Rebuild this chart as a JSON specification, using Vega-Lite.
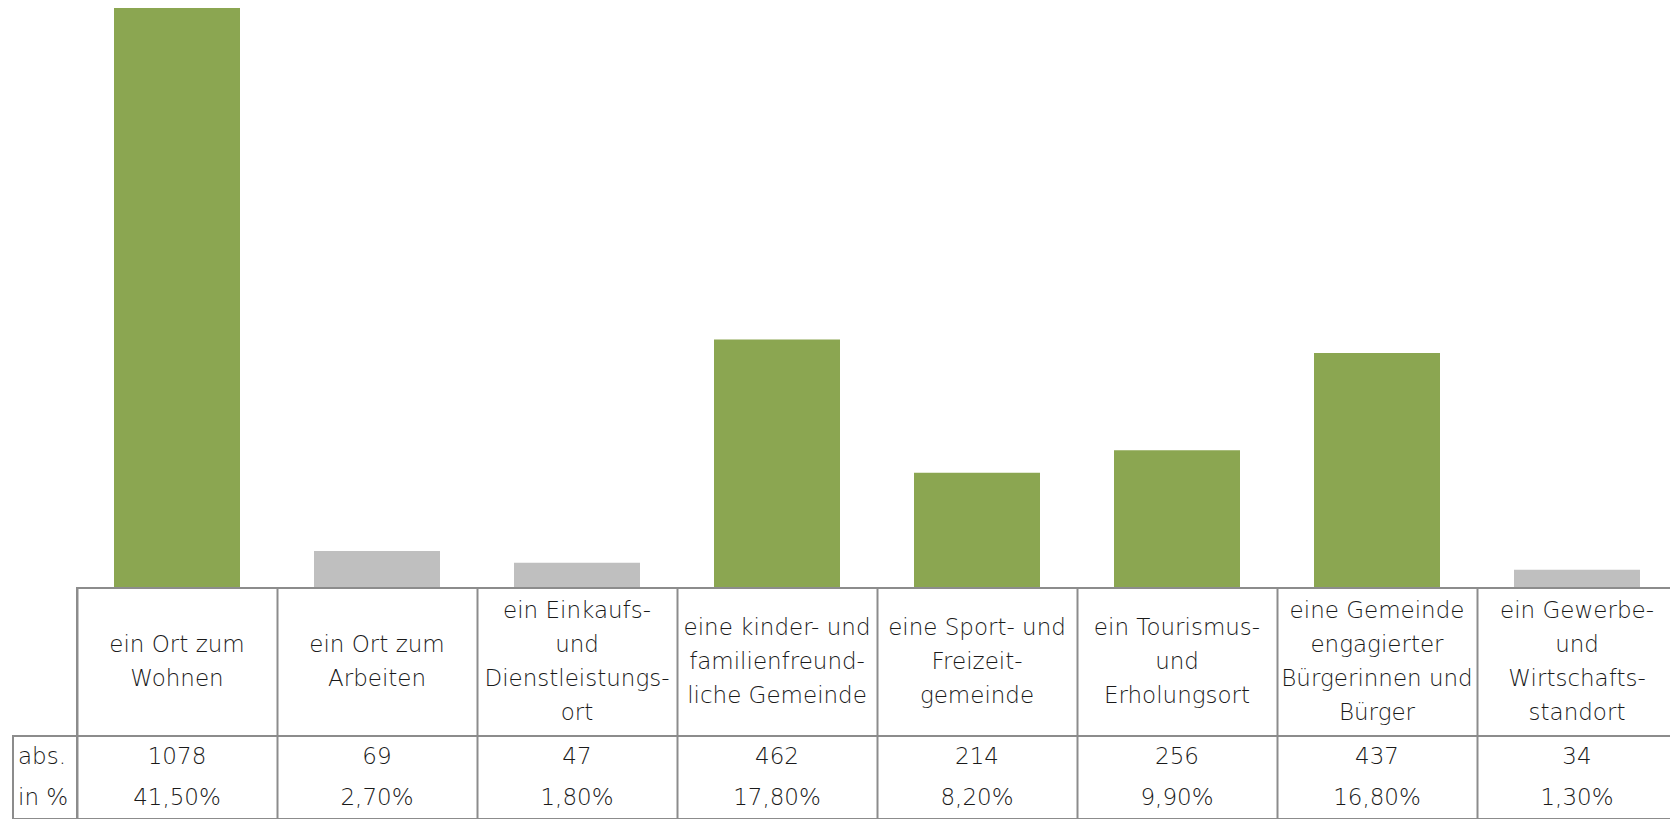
{
  "$schema": "https://vega.github.io/schema/vega-lite/v6.json",
  "padding": {"left": 12, "top": 8, "right": 0, "bottom": 0},
  "background": "white",
  "columns": 2,
  "spacing": 0,
  "align": "each",
  "bounds": "flush",
  "datasets": {
    "werte": [
      {"kategorie": "ein Ort zum|Wohnen", "abs": 1078, "anteil": 0.415, "gruppe": "hoch"},
      {"kategorie": "ein Ort zum|Arbeiten", "abs": 69, "anteil": 0.027, "gruppe": "niedrig"},
      {"kategorie": "ein Einkaufs-|und|Dienstleistungs-|ort", "abs": 47, "anteil": 0.018, "gruppe": "niedrig"},
      {"kategorie": "eine kinder- und|familienfreund-|liche Gemeinde", "abs": 462, "anteil": 0.178, "gruppe": "hoch"},
      {"kategorie": "eine Sport- und|Freizeit-|gemeinde", "abs": 214, "anteil": 0.082, "gruppe": "hoch"},
      {"kategorie": "ein Tourismus-|und|Erholungsort", "abs": 256, "anteil": 0.099, "gruppe": "hoch"},
      {"kategorie": "eine Gemeinde|engagierter|Bürgerinnen und|Bürger", "abs": 437, "anteil": 0.168, "gruppe": "hoch"},
      {"kategorie": "ein Gewerbe-|und|Wirtschafts-|standort", "abs": 34, "anteil": 0.013, "gruppe": "niedrig"}
    ],
    "zeilen": [
      {"zeile": "abs."},
      {"zeile": "in %"}
    ]
  },
  "concat": [
    {
      "width": 64, "height": 580,
      "view": {"stroke": null},
      "data": {"values": []},
      "mark": {"type": "text"}
    },
    {
      "width": 1600, "height": 580,
      "view": {"stroke": null},
      "data": {"name": "werte"},
      "mark": {"type": "bar"},
      "encoding": {
        "x": {"field": "kategorie", "type": "nominal", "sort": null,
              "scale": {"paddingInner": 0.37, "paddingOuter": 0.185}, "axis": null},
        "y": {"field": "abs", "type": "quantitative",
              "scale": {"domain": [0, 1078], "nice": false, "zero": true}, "axis": null},
        "color": {"field": "gruppe", "type": "nominal",
                  "scale": {"domain": ["hoch", "niedrig"], "range": ["#8BA651", "#BFBFBF"]},
                  "legend": null}
      }
    },
    {
      "width": 64, "height": 148,
      "view": {"stroke": null},
      "data": {"values": []},
      "mark": {"type": "text"}
    },
    {
      "width": 1600, "height": 148,
      "data": {"name": "werte"},
      "mark": {"type": "text", "lineBreak": "|", "lineHeight": 34, "baseline": "middle", "align": "center",
               "dy": {"expr": "-17 * (length(split(datum.kategorie, '|')) - 1)"}},
      "encoding": {
        "x": {"field": "kategorie", "type": "nominal", "sort": null,
              "scale": {"paddingInner": 0, "paddingOuter": 0},
              "axis": {"labels": false, "ticks": false, "domain": false, "title": null,
                       "grid": true, "tickBand": "extent", "gridColor": "#8C8C8C", "gridWidth": 2, "gridOpacity": 1}},
        "text": {"field": "kategorie", "type": "nominal"}
      }
    },
    {
      "width": 64, "height": 83,
      "data": {"name": "zeilen"},
      "mark": {"type": "text", "align": "left", "baseline": "middle", "dx": -27},
      "encoding": {
        "y": {"field": "zeile", "type": "nominal", "sort": null,
              "scale": {"domain": ["abs.", "in %"], "paddingInner": 0, "paddingOuter": 0}, "axis": null},
        "text": {"field": "zeile", "type": "nominal"}
      }
    },
    {
      "width": 1600, "height": 83,
      "data": {"name": "werte"},
      "encoding": {
        "x": {"field": "kategorie", "type": "nominal", "sort": null,
              "scale": {"paddingInner": 0, "paddingOuter": 0},
              "axis": {"labels": false, "ticks": false, "domain": false, "title": null,
                       "grid": true, "tickBand": "extent", "gridColor": "#8C8C8C", "gridWidth": 2, "gridOpacity": 1}}
      },
      "layer": [
        {
          "mark": {"type": "text", "baseline": "middle", "align": "center"},
          "encoding": {
            "y": {"datum": "abs.", "type": "nominal",
                  "scale": {"domain": ["abs.", "in %"], "paddingInner": 0, "paddingOuter": 0}, "axis": null},
            "text": {"field": "abs", "type": "quantitative", "format": "d"}
          }
        },
        {
          "mark": {"type": "text", "baseline": "middle", "align": "center"},
          "encoding": {
            "y": {"datum": "in %", "type": "nominal"},
            "text": {"field": "anteil", "type": "quantitative", "format": ".2%"}
          }
        }
      ]
    }
  ],
  "config": {
    "locale": {"number": {"decimal": ",", "thousands": ".", "grouping": [3], "currency": ["", " €"]}},
    "view": {"stroke": "#8C8C8C", "strokeWidth": 2},
    "text": {"font": "DejaVu Sans", "fontSize": 23, "fontWeight": 300, "color": "#1A1A1A"}
  }
}
